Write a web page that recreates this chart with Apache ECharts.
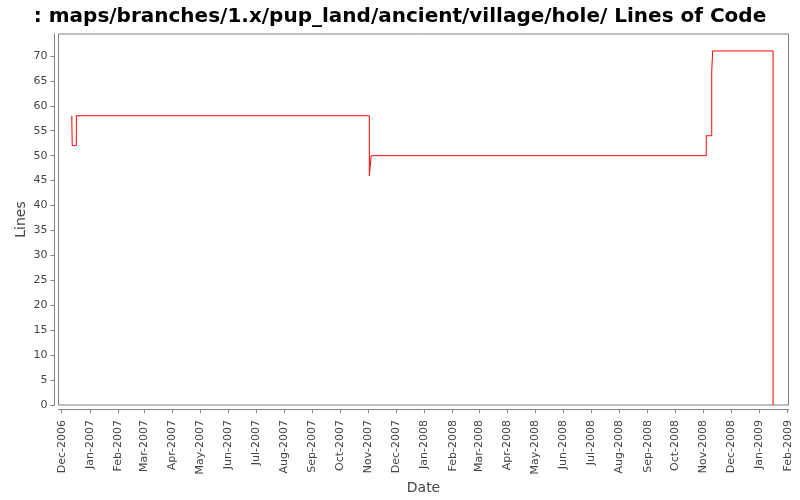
<!DOCTYPE html>
<html>
<head>
<meta charset="utf-8">
<script src="https://cdn.jsdelivr.net/npm/echarts@6/dist/echarts.min.js"></script>
<style>html,body{margin:0;padding:0;background:#fff}#c{width:800px;height:500px}</style>
</head>
<body>
<div id="c"></div>
<script>
var titleText = ': maps/branches/1.x/pup_land/ancient/village/hole/ Lines of Code';
var dates = ['2006-12-12 00:00', '2006-12-12 12:00', '2006-12-17 00:00', '2007-11-02 00:00', '2007-11-04 00:00', '2008-11-04 00:00', '2008-11-10 00:00', '2008-11-11 00:00', '2009-01-16 00:00'];
var lines = [58, 52, 58, 46, 50, 54, 67, 71, 0];
var xTickDates = ['2006-12-01','2007-01-01','2007-02-01','2007-03-01','2007-04-01','2007-05-01','2007-06-01','2007-07-01','2007-08-01','2007-09-01','2007-10-01','2007-11-01','2007-12-01','2008-01-01','2008-02-01','2008-03-01','2008-04-01','2008-05-01','2008-06-01','2008-07-01','2008-08-01','2008-09-01','2008-10-01','2008-11-01','2008-12-01','2009-01-01','2009-02-01'];
var yTicks = [0,5,10,15,20,25,30,35,40,45,50,55,60,65,70];
var monthNames = ['Jan','Feb','Mar','Apr','May','Jun','Jul','Aug','Sep','Oct','Nov','Dec'];

function ts(s) {
  var p = s.split(/[- :]/).map(Number);
  return new Date(p[0], p[1] - 1, p[2], p[3] || 0, p[4] || 0).getTime();
}
var seriesData = dates.map(function (d, i) { return [ts(d), lines[i]]; });
var xTickVals = xTickDates.map(ts);

var chart = echarts.init(document.getElementById('c'));
chart.setOption({
  backgroundColor: '#ffffff',
  animation: false,
  title: {
    text: titleText, left: 'center', top: 2,
    textStyle: { fontFamily: 'DejaVu Sans', fontWeight: 'bold', fontSize: 20, color: '#000' }
  },
  grid: { left: 58.5, right: 11.5, top: 34, bottom: 94.5, show: true, borderColor: '#808080', borderWidth: 1, backgroundColor: '#fff' },
  xAxis: {
    type: 'value',
    min: ts('2006-11-27 12:00'),
    max: ts('2009-02-01 20:00'),
    offset: 4,
    name: 'Date', nameLocation: 'middle', nameGap: 72, nameMoveOverlap: false,
    nameTextStyle: { fontFamily: 'DejaVu Sans', fontSize: 14, color: '#444' },
    axisLine: { show: true, onZero: false, lineStyle: { color: '#808080', width: 1 } },
    axisTick: { show: true, length: 4, customValues: xTickVals, lineStyle: { color: '#808080' } },
    axisLabel: {
      customValues: xTickVals, rotate: 90, margin: 11,
      fontFamily: 'DejaVu Sans', fontSize: 11, color: '#444',
      formatter: function (v) { var d = new Date(v); return monthNames[d.getMonth()] + '-' + d.getFullYear(); }
    },
    splitLine: { show: false }
  },
  yAxis: {
    type: 'value', min: 0, max: 74.4,
    offset: 4,
    name: 'Lines', nameLocation: 'middle', nameGap: 26, nameMoveOverlap: false,
    nameTextStyle: { fontFamily: 'DejaVu Sans', fontSize: 14, color: '#444' },
    axisLine: { show: true, lineStyle: { color: '#808080', width: 1 } },
    axisTick: { show: true, length: 4, customValues: yTicks, lineStyle: { color: '#808080' } },
    axisLabel: { customValues: yTicks, margin: 7, fontFamily: 'DejaVu Sans', fontSize: 11, color: '#444' },
    splitLine: { show: false }
  },
  series: [{
    type: 'line', step: 'end', showSymbol: false, symbol: 'none',
    data: seriesData,
    lineStyle: { color: '#ff0000', width: 1 }
  }]
});
</script>
</body>
</html>
